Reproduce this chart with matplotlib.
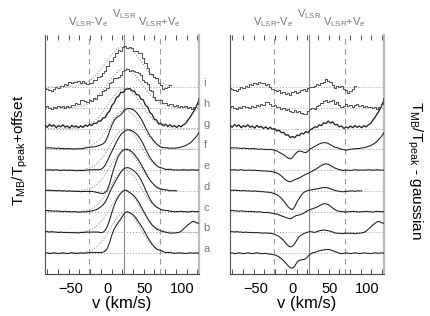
import numpy as np
import matplotlib
matplotlib.use('Agg')
import matplotlib.pyplot as plt

plt.rcParams['font.family'] = ['Liberation Sans', 'DejaVu Sans']
plt.rcParams['mathtext.default'] = 'regular'

# velocity channels (km/s)
v = np.arange(-84, 124, 3)

names = ['a', 'b', 'c', 'd', 'e', 'f', 'g', 'h', 'i']

# residuals (spectrum - gaussian)
res_a = [0.00, 0.01, -0.01, 0.00, 0.01, 0.00, -0.01, 0.00, 0.01, 0.00,
         -0.01, 0.00, 0.01, 0.00, -0.01, -0.01, 0.00, -0.02, -0.02, -0.03,
         -0.04, -0.06, -0.09, -0.13, -0.18, -0.24, -0.30, -0.35, -0.36, -0.31,
         -0.22, -0.17, -0.16, -0.15, -0.13, -0.07, -0.02, 0.01, 0.02, 0.04,
         0.06, 0.07, 0.08, 0.09, 0.09, 0.08, 0.06, 0.04, 0.02, 0.00,
         -0.01, 0.00, 0.01, 0.00, -0.01, 0.00, 0.01, 0.00, -0.01, 0.00,
         0.01, 0.00, 0.00, -0.01, 0.00, 0.01, 0.00, 0.00, 0.01, 0.00]
res_b = [0.02, 0.02, 0.01, 0.02, 0.01, 0.01, 0.00, 0.01, 0.00, 0.00,
         0.00, -0.01, 0.00, -0.01, -0.01, -0.02, -0.01, -0.02, -0.02, -0.03,
         -0.05, -0.07, -0.10, -0.14, -0.19, -0.26, -0.32, -0.35, -0.33, -0.27,
         -0.18, -0.10, -0.06, -0.03, -0.01, 0.01, 0.02, 0.01, 0.00, 0.02,
         0.04, 0.05, 0.06, 0.05, 0.04, 0.03, 0.01, -0.01, -0.02, -0.02,
         -0.03, -0.02, -0.02, -0.02, -0.02, -0.02, -0.03, -0.02, -0.02, -0.01,
         0.00, 0.03, 0.08, 0.13, 0.18, 0.22, 0.26, 0.26, 0.23, 0.22]
res_c = [0.02, 0.03, 0.02, 0.02, 0.01, 0.02, 0.01, 0.01, 0.00, 0.01,
         0.00, 0.00, -0.01, 0.00, -0.01, -0.02, -0.02, -0.02, -0.03, -0.04,
         -0.05, -0.06, -0.08, -0.10, -0.12, -0.14, -0.16, -0.17, -0.15, -0.11,
         -0.09, -0.08, -0.06, -0.04, 0.00, 0.03, 0.05, 0.07, 0.09, 0.11,
         0.14, 0.17, 0.19, 0.19, 0.17, 0.13, 0.09, 0.05, 0.02, 0.01,
         0.00, 0.00, -0.01, 0.00, 0.00, 0.01, 0.00, 0.00, -0.01, 0.00,
         0.00, 0.01, 0.00, 0.00, -0.01, 0.00, 0.01, 0.00, 0.00, 0.00]
res_d = [0.02, 0.01, 0.02, 0.01, 0.01, 0.00, 0.01, 0.00, 0.00, 0.00,
         -0.01, 0.00, -0.01, -0.01, -0.02, -0.02, -0.03, -0.03, -0.04, -0.05,
         -0.07, -0.09, -0.13, -0.18, -0.24, -0.31, -0.38, -0.43, -0.45, -0.38,
         -0.27, -0.18, -0.10, -0.04, -0.01, 0.01, 0.02, 0.03, 0.04, 0.05,
         0.06, 0.07, 0.08, 0.08, 0.07, 0.05, 0.03, 0.01, 0.00, -0.01,
         -0.02, -0.02, -0.01, -0.01, 0.00, 0.00, -0.01, 0.00, 0.00, 0.00,
         np.nan, np.nan, np.nan, np.nan, np.nan, np.nan, np.nan, np.nan, np.nan, np.nan]
res_e = [0.01, 0.00, 0.01, 0.00, 0.00, 0.01, 0.00, -0.01, 0.00, 0.00,
         -0.01, 0.00, -0.01, -0.01, -0.02, -0.02, -0.02, -0.03, -0.03, -0.04,
         -0.05, -0.07, -0.10, -0.14, -0.19, -0.24, -0.27, -0.28, -0.26, -0.23,
         -0.21, -0.19, -0.16, -0.13, -0.10, -0.08, -0.05, -0.02, 0.01, 0.04,
         0.08, 0.11, 0.14, 0.15, 0.14, 0.11, 0.08, 0.05, 0.03, 0.01,
         0.00, -0.01, 0.00, 0.00, -0.01, 0.00, 0.01, 0.00, 0.00, 0.00,
         0.00, 0.00, 0.01, 0.00, 0.00, 0.00, 0.01, 0.00, 0.00, 0.00]
res_f = [0.04, 0.03, 0.04, 0.03, 0.03, 0.02, 0.03, 0.02, 0.02, 0.01,
         0.02, 0.01, 0.01, 0.00, 0.01, 0.00, 0.00, -0.01, 0.00, -0.01,
         -0.02, -0.04, -0.07, -0.10, -0.13, -0.17, -0.21, -0.23, -0.20, -0.13,
         -0.07, -0.04, -0.05, -0.07, -0.08, -0.04, 0.01, 0.04, 0.07, 0.10,
         0.13, 0.15, 0.16, 0.16, 0.14, 0.11, 0.08, 0.05, 0.04, 0.02,
         0.00, -0.01, -0.02, -0.01, 0.00, 0.01, 0.01, 0.02, 0.02, 0.03,
         0.04, 0.05, 0.07, 0.09, 0.12, 0.15, 0.20, 0.26, 0.32, 0.40]
res_g = [0.08, 0.03, 0.10, 0.05, 0.09, 0.02, 0.07, 0.04, 0.09, 0.03,
         0.06, 0.01, 0.07, 0.03, 0.05, 0.00, 0.04, -0.01, 0.03, -0.02,
         0.00, -0.06, -0.04, -0.10, -0.09, -0.16, -0.15, -0.22, -0.19, -0.22,
         -0.16, -0.17, -0.11, -0.13, -0.07, -0.10, -0.03, 0.00, 0.04, 0.03,
         0.09, 0.07, 0.14, 0.12, 0.18, 0.13, 0.16, 0.09, 0.10, 0.04,
         0.06, 0.00, 0.04, 0.01, 0.06, 0.02, 0.07, 0.03, 0.06, 0.02,
         0.07, 0.04, 0.09, 0.12, 0.20, 0.27, 0.36, 0.44, 0.56, 0.68]
res_h = [0.02, 0.05, -0.01, -0.03, 0.02, 0.00, 0.04, 0.01, 0.03, 0.00,
         0.04, 0.02, 0.07, 0.05, 0.10, 0.06, 0.14, 0.13, 0.09, 0.04,
         0.06, 0.01, 0.03, -0.03, 0.00, -0.05, -0.03, -0.07, -0.10, -0.06,
         -0.11, -0.08, -0.13, -0.16, -0.14, -0.07, -0.04, 0.00, -0.02, 0.05,
         0.07, 0.11, 0.16, 0.19, 0.13, 0.16, 0.18, 0.10, 0.14, 0.06,
         0.02, 0.05, 0.08, 0.04, 0.07, 0.03, 0.06, 0.08, 0.04, 0.06,
         0.02, 0.04, 0.01, 0.03, -0.01, 0.02, -0.02, 0.01, 0.09, 0.24]
res_i = [-0.02, -0.05, -0.07, -0.10, -0.05, -0.01, -0.03, 0.03, 0.01, 0.06,
         0.05, 0.10, 0.07, 0.11, 0.09, 0.10, 0.05, 0.07, -0.01, -0.05,
         -0.07, -0.10, -0.08, -0.14, -0.12, -0.17, -0.15, -0.19, -0.13, -0.09,
         -0.15, -0.12, -0.08, -0.06, -0.09, -0.02, 0.00, -0.01, 0.03, 0.06,
         0.04, 0.10, 0.13, 0.19, 0.14, 0.11, 0.05, -0.02, 0.03, 0.01,
         0.03, -0.04, -0.07, -0.14, -0.10, -0.05, 0.02, np.nan, np.nan, np.nan,
         np.nan, np.nan, np.nan, np.nan, np.nan, np.nan, np.nan, np.nan, np.nan, np.nan]

residuals = [res_a, res_b, res_c, res_d, res_e, res_f, res_g, res_h, res_i]

# gaussian fits: amplitude, centre (km/s), sigma (km/s)
amps = [1.00, 1.00, 1.00, 0.98, 1.00, 0.95, 0.97, 0.95, 0.98]
cents = [24, 24, 24, 24, 24, 24, 23, 23, 22]
sigmas = [20, 20, 20, 20, 20, 21, 22, 23, 24]

vlsr = 22.5
ve = 48.0
offset = 0.5

fig = plt.figure(figsize=(4.3, 3.16), dpi=100)
axL = fig.add_axes([0.1047, 0.1329, 0.3581, 0.7563])
axR = fig.add_axes([0.5349, 0.1329, 0.3581, 0.7563])

for k in range(len(names)):
    res = np.array(residuals[k], dtype=float)
    gau = amps[k] * np.exp(-(v - cents[k]) ** 2 / (2.0 * sigmas[k] ** 2))
    gau_shown = np.where(np.isnan(res), np.nan, gau)
    spec = gau + res
    y0 = k * offset
    if names[k] in ('h', 'i'):
        kw = dict(color='#555555', lw=0.75, drawstyle='steps-mid')
    elif names[k] == 'g':
        kw = dict(color='#222222', lw=0.95)
    else:
        kw = dict(color='#1a1a1a', lw=0.75)
    for ax in (axL, axR):
        ax.axhline(y0, color='#999999', lw=0.7, ls=(0, (1, 2)), zorder=1)
    axL.plot(v, gau_shown + y0, color='#999999', lw=0.8, ls=(0, (1, 1.5)), zorder=2)
    axL.plot(v, spec + y0, zorder=3, **kw)
    axR.plot(v, res + y0, zorder=3, **kw)
    axL.text(1.03, y0 + 0.1, names[k], transform=axL.get_yaxis_transform(),
             color='#777777', fontsize=8, ha='left', va='center')

for ax in (axL, axR):
    ax.set_xlim(-84, 123)
    ax.set_ylim(-0.5, 5.25)
    ax.axvline(vlsr, color='#888888', lw=0.8, zorder=1)
    ax.axvline(vlsr - ve, color='#999999', lw=0.8, ls=(0, (5, 4)), zorder=1)
    ax.axvline(vlsr + ve, color='#999999', lw=0.8, ls=(0, (5, 4)), zorder=1)
    ax.set_yticks([])
    ax.set_xticks([-50, 0, 50, 100])
    ax.set_xticks(np.arange(-81, 124, 14.4), minor=True)
    ax.tick_params(axis='x', which='major', length=0, labelsize=10.5, pad=6)
    ax.tick_params(axis='x', which='minor', direction='in', length=3.5,
                   width=0.6, top=True, bottom=True, color='#333333')
    ax.spines['top'].set_visible(False)
    ax.spines['left'].set_color('#555555')
    ax.spines['left'].set_linewidth(0.8)
    ax.spines['bottom'].set_color('#444444')
    ax.spines['bottom'].set_linewidth(0.8)
    ax.spines['right'].set_color('#bbbbbb')
    ax.spines['right'].set_linewidth(1.6)
    ax.set_xlabel('v (km/s)', fontsize=12, labelpad=0)
    tr = ax.get_xaxis_transform()
    ax.text(vlsr - ve, 1.024, r'$V_{LSR}$-$V_e$', transform=tr, color='#777777',
            fontsize=8, ha='center', va='bottom')
    ax.text(vlsr, 1.057, r'$V_{LSR}$', transform=tr, color='#777777',
            fontsize=8, ha='center', va='bottom')
    ax.text(vlsr + ve, 1.024, r'$V_{LSR}$+$V_e$', transform=tr, color='#777777',
            fontsize=8, ha='center', va='bottom')

fig.text(0.047, 0.525, r'$T_{MB}/T_{peak}$+offset', rotation=90,
         fontsize=11, ha='center', va='center')
fig.text(0.965, 0.462, r'$T_{MB}/T_{peak}$ - gaussian', rotation=270,
         fontsize=11, ha='center', va='center')

fig.savefig('out.png', dpi=100)
